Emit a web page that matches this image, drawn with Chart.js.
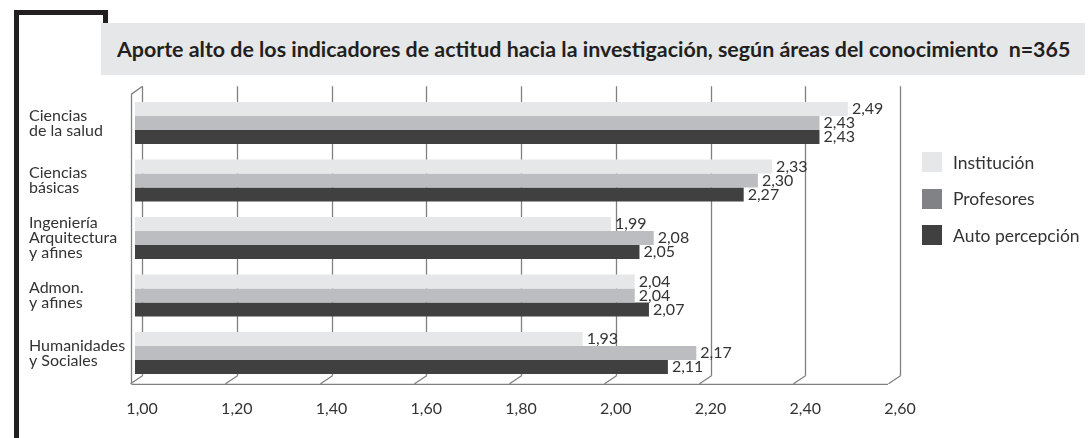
<!DOCTYPE html>
<html>
<head>
<meta charset="utf-8">
<script src="https://cdn.jsdelivr.net/npm/chart.js@4"></script>
<style>
    body { margin: 0; background: #fff; width: 1089px; height: 438px; position: relative; overflow: hidden; font-family: Lato, sans-serif; }
    .frame-left { position: absolute; left: 14px; top: 10px; width: 5px; height: 428px; background: #231f20; }
    .frame-top { position: absolute; left: 14px; top: 10px; width: 94px; height: 5px; background: #231f20; }
    .frame-right { position: absolute; left: 103px; top: 10px; width: 5px; height: 14px; background: #231f20; }
    .title { position: absolute; left: 101px; top: 23px; width: 984px; height: 52px; background: #e6e7e8;
             font: bold 21.4px Lato, sans-serif; color: #231f20; line-height: 52px; padding-left: 16px; box-sizing: border-box; white-space: pre; }
    .chart-box { position: absolute; left: 0; top: 76px; width: 1089px; height: 362px; }
    #legend { position: absolute; left: 922px; top: 152px; }
    .legend-item { display: flex; align-items: center; height: 20px; margin-bottom: 16.5px; font-size: 17.5px; color: #333; }
    .legend-item span { display: inline-block; width: 20px; height: 20px; margin-right: 11px; }
</style>
</head>
<body>
<div class="frame-left"></div>
<div class="frame-top"></div>
<div class="frame-right"></div>
<div class="title">Aporte alto de los indicadores de actitud hacia la investigación, según áreas del conocimiento  n=365</div>
<div class="chart-box"><canvas id="chart"></canvas></div>
<div id="legend"></div>

<script>
const categories = [
    ["Ciencias", "de la salud"],
    ["Ciencias", "básicas"],
    ["Ingeniería", "Arquitectura", "y afines"],
    ["Admon.", "y afines"],
    ["Humanidades", "y Sociales"]
];
const institucion = [2.49, 2.33, 1.99, 2.04, 1.93];
const profesores = [2.43, 2.30, 2.08, 2.04, 2.17];
const autoPercepcion = [2.43, 2.27, 2.05, 2.07, 2.11];
const xTicks = [1.0, 1.2, 1.4, 1.6, 1.8, 2.0, 2.2, 2.4, 2.6];

const textColor = "#333333";
const frameColor = "#808080";

function formatNumber(value) {
    return value.toFixed(2).replace(".", ",");
}

// pseudo 3D frame (back wall grid + front edges) and value labels
const framePlugin = {
    id: "frame3d",
    beforeDatasetsDraw(chart) {
        const { ctx, chartArea, scales } = chart;
        const top = chartArea.top;
        const bottom = chartArea.bottom;
        ctx.save();
        ctx.strokeStyle = frameColor;
        ctx.lineWidth = 1.3;
        ctx.beginPath();
        xTicks.forEach(v => {
            const x = Math.round(scales.x.getPixelForValue(v)) + 0.5;
            ctx.moveTo(x, top - 8);
            ctx.lineTo(x, bottom - 6);
            ctx.moveTo(x, bottom - 6);
            ctx.lineTo(x - 12, bottom + 2);
        });
        const first = scales.x.getPixelForValue(xTicks[0]);
        const last = scales.x.getPixelForValue(xTicks[xTicks.length - 1]);
        const frontLeft = Math.round(first) - 10.5;
        ctx.moveTo(frontLeft, bottom + 2.5);
        ctx.lineTo(last - 12, bottom + 2.5);
        ctx.moveTo(frontLeft, bottom + 2.5);
        ctx.lineTo(frontLeft, top);
        ctx.lineTo(Math.round(first) + 0.5, top - 8);
        ctx.stroke();
        ctx.restore();
    },
    afterDatasetsDraw(chart) {
        const { ctx } = chart;
        ctx.save();
        ctx.fillStyle = textColor;
        ctx.font = "16px Lato, sans-serif";
        ctx.textAlign = "left";
        ctx.textBaseline = "middle";
        chart.data.datasets.forEach((ds, i) => {
            chart.getDatasetMeta(i).data.forEach((bar, j) => {
                ctx.fillText(formatNumber(ds.data[j]), bar.x + 4, bar.y);
            });
        });
        ctx.restore();
    }
};

const chart = new Chart(document.getElementById("chart").getContext("2d"), {
    type: "bar",
    data: {
        labels: categories,
        datasets: [
            { label: "Institución", data: institucion, backgroundColor: "#e6e7e8", legendColor: "#e6e7e8" },
            { label: "Profesores", data: profesores, backgroundColor: "#bbbdc0", legendColor: "#808285" },
            { label: "Auto percepción", data: autoPercepcion, backgroundColor: "#404041", legendColor: "#404041" }
        ]
    },
    options: {
        indexAxis: "y",
        responsive: true,
        maintainAspectRatio: false,
        animation: false,
        datasets: {
            bar: { categoryPercentage: 0.73, barPercentage: 1.0, borderWidth: 0 }
        },
        layout: { padding: { left: 29, top: 3, right: 189, bottom: 11 } },
        plugins: {
            title: { display: false },
            tooltip: { enabled: false },
            legend: { display: false }
        },
        scales: {
            x: {
                type: "linear",
                min: 0.985,
                max: 2.6,
                afterBuildTicks(scale) {
                    scale.ticks = xTicks.map(v => ({ value: v }));
                },
                grid: { display: false },
                border: { display: false },
                ticks: {
                    color: textColor,
                    font: { family: "Lato", size: 16 },
                    padding: 9,
                    maxRotation: 0,
                    callback: value => formatNumber(value)
                }
            },
            y: {
                grid: { display: false },
                border: { display: false },
                afterFit(scale) { scale.width = 106; },
                ticks: {
                    color: textColor,
                    crossAlign: "far",
                    font: { family: "Lato", size: 16, lineHeight: 0.95 }
                }
            }
        }
    },
    plugins: [framePlugin]
});

// legend built from the datasets
const legendEl = document.getElementById("legend");
chart.data.datasets.forEach(ds => {
    const item = document.createElement("div");
    item.className = "legend-item";
    item.innerHTML = `<span style="background:${ds.legendColor}"></span>${ds.label}`;
    legendEl.appendChild(item);
});
</script>
</body>
</html>
